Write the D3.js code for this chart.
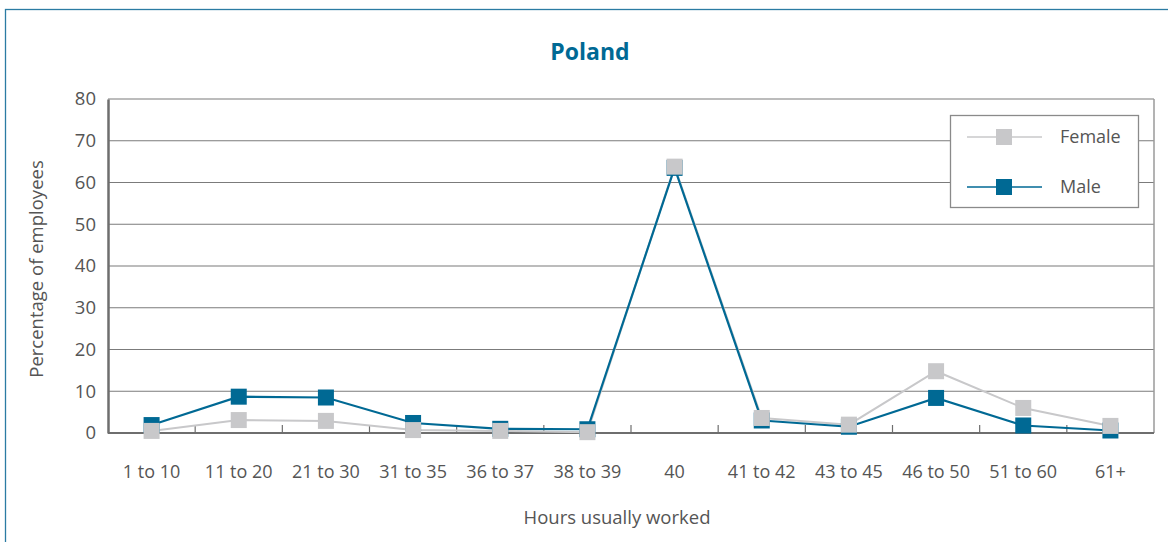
<!DOCTYPE html>
<html>
<head>
<meta charset="utf-8">
<script src="https://cdn.jsdelivr.net/npm/d3@7"></script>
<style>
  body { margin: 0; background: #fff; }
  text { font-family: "Open Sans", sans-serif; fill: #555; }
</style>
</head>
<body>
<div id="chart"></div>
<script>
// categorieen en waarden
var categories = ['1 to 10', '11 to 20', '21 to 30', '31 to 35', '36 to 37', '38 to 39',
                  '40', '41 to 42', '43 to 45', '46 to 50', '51 to 60', '61+'];
var female = [0.5, 3.1, 2.9, 0.7, 0.5, 0.2, 63.8, 3.6, 2.0, 14.8, 6.0, 1.7];
var male   = [1.9, 8.7, 8.5, 2.4, 1.0, 0.9, 63.5, 3.0, 1.5, 8.4, 1.8, 0.6];
var yTicks = [0, 10, 20, 30, 40, 50, 60, 70, 80];

var width = 1168, height = 542;
var margin = {top: 99, right: 14, bottom: 109, left: 108};
var plotW = width - margin.left - margin.right;
var plotH = height - margin.top - margin.bottom;

var blue = '#006994', grey = '#c8c8ca';

var svg = d3.select('#chart').append('svg')
  .attr('width', width)
  .attr('height', height);

// buitenrand
svg.append('rect')
  .attr('x', 5.5).attr('y', 9.5)
  .attr('width', width + 10).attr('height', height + 10)
  .attr('fill', 'none').attr('stroke', '#2b7ba3').attr('stroke-width', 1.3);

svg.append('text')
  .attr('x', 590).attr('y', 60)
  .attr('text-anchor', 'middle')
  .style('fill', blue)
  .attr('font-weight', 'bold')
  .attr('font-size', 23)
  .text('Poland');

var g = svg.append('g')
  .attr('transform', 'translate(' + margin.left + ',' + margin.top + ')');

var xScale = d3.scaleBand().domain(categories).range([0, plotW]);
var yScale = d3.scaleLinear().domain([0, 80]).range([plotH, 0]);

// rasterlijnen
g.selectAll('.grid')
  .data(yTicks.slice(1))
  .enter().append('line')
  .attr('x1', 0).attr('x2', plotW)
  .attr('y1', function(d){ return yScale(d); })
  .attr('y2', function(d){ return yScale(d); })
  .attr('stroke', '#7b7b7b').attr('stroke-width', 1.2);

// rechterrand
g.append('line')
  .attr('x1', plotW).attr('x2', plotW).attr('y1', 0).attr('y2', plotH)
  .attr('stroke', '#9a9a9a').attr('stroke-width', 1.5);

// y-as
var yAxis = d3.axisLeft(yScale).tickValues(yTicks).tickSize(0).tickPadding(12);
var ya = g.append('g').call(yAxis);
ya.select('.domain').attr('stroke', '#6e6e6e').attr('stroke-width', 2.5);
ya.selectAll('text').attr('font-size', 18.5).style('font-family', '"Open Sans", sans-serif').style('fill', '#555');

// x-as met tickjes tussen categorieen
g.append('line')
  .attr('x1', 0).attr('x2', plotW).attr('y1', plotH).attr('y2', plotH)
  .attr('stroke', '#6e6e6e').attr('stroke-width', 2);
g.selectAll('.xtick')
  .data(categories.slice(1))
  .enter().append('line')
  .attr('x1', function(d){ return xScale(d); })
  .attr('x2', function(d){ return xScale(d); })
  .attr('y1', plotH).attr('y2', plotH - 8)
  .attr('stroke', '#6e6e6e').attr('stroke-width', 1.2);
g.selectAll('.xlabel')
  .data(categories)
  .enter().append('text')
  .attr('x', function(d){ return xScale(d) + xScale.bandwidth() / 2; })
  .attr('y', plotH + 45)
  .attr('text-anchor', 'middle')
  .attr('font-size', 18)
  .text(function(d){ return d; });

// lijnen
var line = d3.line()
  .x(function(d, i){ return xScale(categories[i]) + xScale.bandwidth() / 2; })
  .y(function(d){ return yScale(d); });

g.append('path').datum(female)
  .attr('d', line).attr('fill', 'none')
  .attr('stroke', grey).attr('stroke-width', 2);
g.append('path').datum(male)
  .attr('d', line).attr('fill', 'none')
  .attr('stroke', blue).attr('stroke-width', 2.2);

var ms = 16;
function markers(data, color) {
  g.selectAll(null)
    .data(data)
    .enter().append('rect')
    .attr('x', function(d, i){ return xScale(categories[i]) + xScale.bandwidth() / 2 - ms / 2; })
    .attr('y', function(d){ return yScale(d) - ms / 2; })
    .attr('width', ms).attr('height', ms)
    .attr('fill', color);
}
markers(male, blue);
markers(female, grey);

// as-labels
svg.append('text')
  .attr('transform', 'translate(43,' + (margin.top + plotH / 2 + 3) + ') rotate(-90)')
  .attr('text-anchor', 'middle')
  .attr('font-size', 18.5)
  .text('Percentage of employees');

svg.append('text')
  .attr('x', 617).attr('y', 524)
  .attr('text-anchor', 'middle')
  .attr('font-size', 18.5)
  .text('Hours usually worked');

// legenda
var legend = svg.append('g').attr('transform', 'translate(950,115)');
legend.append('rect')
  .attr('x', 0.5).attr('y', 0.5).attr('width', 188).attr('height', 92)
  .attr('fill', '#fff').attr('stroke', '#8a8a8a').attr('stroke-width', 1.3);
var items = [{name: 'Female', color: grey, y: 22}, {name: 'Male', color: blue, y: 72}];
items.forEach(function(it){
  legend.append('line')
    .attr('x1', 17).attr('x2', 92).attr('y1', it.y).attr('y2', it.y)
    .attr('stroke', it.color).attr('stroke-width', 1.5);
  legend.append('rect')
    .attr('x', 46).attr('y', it.y - 8).attr('width', 16).attr('height', 16)
    .attr('fill', it.color);
  legend.append('text')
    .attr('x', 110).attr('y', it.y + 6)
    .attr('font-size', 18)
    .text(it.name);
});
</script>
</body>
</html>
